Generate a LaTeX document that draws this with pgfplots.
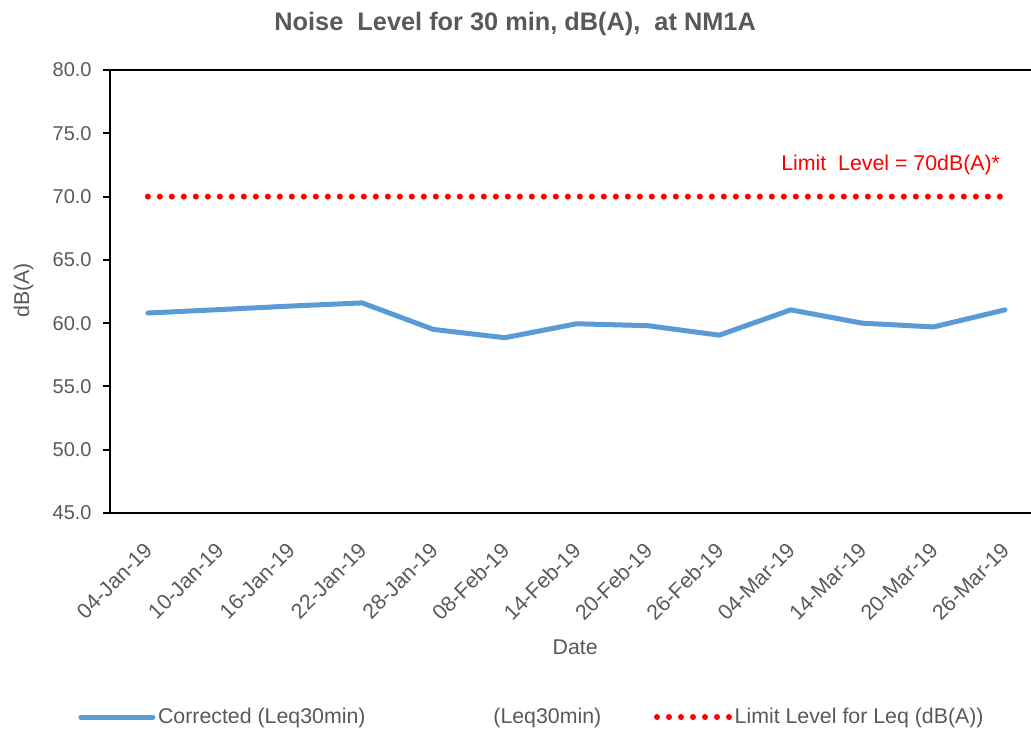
\documentclass[border=0pt]{standalone}
\usepackage{pgfplots}
\pgfplotsset{compat=1.18}
\usepackage{fontspec}
\setmainfont{Liberation Sans}
\definecolor{txtgray}{RGB}{89,89,89}
\definecolor{lineblue}{RGB}{91,155,213}

\begin{document}
\begin{tikzpicture}
\begin{axis}[
 at={(82.5pt,165pt)}, anchor=south west,
 scale only axis, width=703.35pt, height=332.25pt,
 xmin=-0.53, xmax=12.6, ymin=45, ymax=80,
 clip=false,
 axis line style={line width=1.5pt, black},
 xtick={0,...,12},
 xticklabels={04-Jan-19,10-Jan-19,16-Jan-19,22-Jan-19,28-Jan-19,08-Feb-19,14-Feb-19,20-Feb-19,26-Feb-19,04-Mar-19,14-Mar-19,20-Mar-19,26-Mar-19},
 x tick style={draw=none},
 ytick={45,50,...,80},
 y tick style={line width=1.5pt, black},
 tick align=outside, major tick length=5.25pt,
 ytick pos=left, xtick pos=bottom,
 xticklabel style={rotate=45, anchor=east, text=txtgray, font=\fontsize{16}{19}\selectfont, xshift=-10.5pt, yshift=-14.5pt},
 yticklabel style={text=txtgray, font=\fontsize{15}{18}\selectfont, xshift=-5pt, /pgf/number format/.cd, fixed, fixed zerofill, precision=1, assume math mode=true},
 title={Noise\ \ Level for 30 min, dB(A),\ \ at NM1A},
 title style={at={(axis description cs:0.432,1.086)}, anchor=center, font=\bfseries\fontsize{19}{22}\selectfont, text=txtgray},
 xlabel={Date},
 xlabel style={at={(axis description cs:0.496,-0.3025)}, anchor=center, text=txtgray, font=\fontsize{16}{19}\selectfont},
 ylabel={dB(A)},
 ylabel style={at={(axis description cs:-0.092,0.503)}, anchor=center, text=txtgray, font=\fontsize{16}{19}\selectfont},
 legend columns=3,
 legend style={at={(axis description cs:-0.034,-0.4605)}, anchor=west, draw=none, fill=none, inner sep=0pt, font=\fontsize{16}{19}\selectfont, text=txtgray, /tikz/every even column/.append style={column sep=37.5pt}, cells={anchor=west}},
 legend image code/.code={\draw[#1] (0pt,0pt) -- (54pt,0pt);},
]
\addplot[lineblue, line width=3.75pt, line join=round, line cap=round] coordinates {
(0,60.8) (1,61.07) (2,61.35) (3,61.6) (4,59.5) (5,58.85) (6,59.95) (7,59.8) (8,59.05) (9,61.05) (10,60.0) (11,59.7) (12,61.05)
};
\addlegendentry{Corrected (Leq30min)}
\addlegendimage{draw opacity=0}
\addlegendentry{(Leq30min)}
\addplot[red, line width=4.5pt, line cap=round, dash pattern=on 0pt off 9pt] coordinates {
(0,70) (1,70) (2,70) (3,70) (4,70) (5,70) (6,70) (7,70) (8,70) (9,70) (10,70) (11,70) (12,70)
};
\addlegendentry{Limit Level for Leq (dB(A))}
\node[text=red, font=\fontsize{16}{19}\selectfont] at (axis cs:10.4,72.5) {Limit\ \ Level = 70dB(A)*};
\end{axis}
\pgfresetboundingbox
\useasboundingbox (0,0) rectangle (773.25pt,549.75pt);
\end{tikzpicture}
\end{document}
